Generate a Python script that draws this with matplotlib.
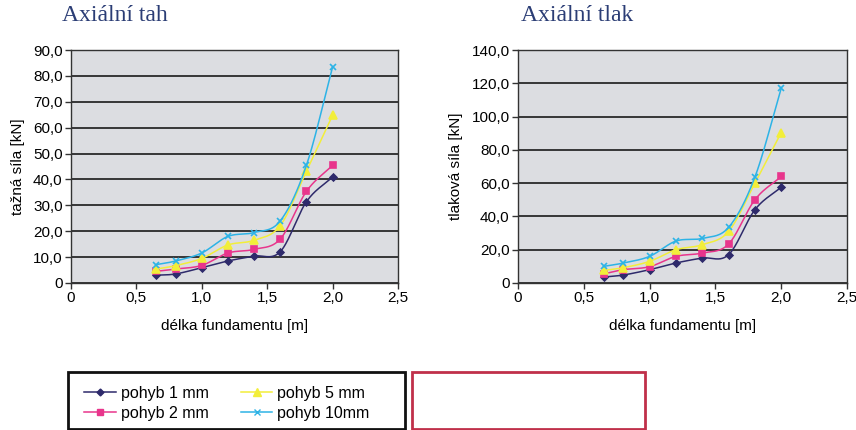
import numpy as np
import matplotlib.pyplot as plt
from matplotlib.patches import Rectangle
from matplotlib.ticker import FuncFormatter

# data
delka = [0.65, 0.8, 1.0, 1.2, 1.4, 1.6, 1.8, 2.0]

tah_1mm = [3.0, 3.5, 5.9, 8.5, 10.4, 12.1, 31.4, 41.0]
tah_2mm = [4.5, 5.4, 6.8, 11.6, 13.0, 17.0, 35.4, 45.5]
tah_5mm = [5.4, 6.7, 9.5, 14.7, 16.5, 22.2, 43.2, 64.8]
tah_10mm = [7.1, 8.5, 11.6, 18.0, 19.5, 24.0, 45.5, 83.5]

tlak_1mm = [3.6, 4.8, 8.0, 12.0, 15.0, 17.0, 44.0, 57.6]
tlak_2mm = [5.4, 8.0, 9.8, 16.0, 18.0, 23.4, 50.0, 64.0]
tlak_5mm = [7.6, 9.2, 13.0, 20.0, 23.0, 31.0, 60.0, 90.4]
tlak_10mm = [10.0, 12.0, 16.0, 25.2, 26.8, 33.4, 63.6, 117.0]

nazvy = ["pohyb 1 mm", "pohyb 2 mm", "pohyb 5 mm", "pohyb 10mm"]
barvy = ["#2E2A6B", "#E8358C", "#F2EE3A", "#2DB3E6"]
znacky = ["D", "s", "^", "x"]
velikosti = [3.5, 5, 5.5, 5]


def vyhlad(x, y, n=30):
    # Excel-like smoothing (parametric Catmull-Rom)
    p = np.column_stack([x, y]).astype(float)
    p = np.vstack([2 * p[0] - p[1], p, 2 * p[-1] - p[-2]])
    out = []
    t = np.linspace(0, 1, n)[:, None]
    for i in range(1, len(p) - 2):
        p0, p1, p2, p3 = p[i - 1], p[i], p[i + 1], p[i + 2]
        c = 0.5 * ((2 * p1) + (-p0 + p2) * t + (2 * p0 - 5 * p1 + 4 * p2 - p3) * t ** 2
                   + (-p0 + 3 * p1 - 3 * p2 + p3) * t ** 3)
        out.append(c if i == 1 else c[1:])
    c = np.vstack(out)
    return c[:, 0], c[:, 1]


def carka(v, pos):
    if v == 0:
        return "0"
    return ("%.1f" % v).replace(".", ",")


plt.rcParams['font.family'] = ['Liberation Sans', 'DejaVu Sans']

fig = plt.figure(figsize=(8.56, 4.30), dpi=100)
ax1 = fig.add_axes([71 / 856, 1 - 283 / 430, 327 / 856, 233 / 430])
ax2 = fig.add_axes([518 / 856, 1 - 283 / 430, 329 / 856, 233 / 430])

sady = [
    (ax1, [tah_1mm, tah_2mm, tah_5mm, tah_10mm], 90, 10, "tažná síla [kN]", "Axiální tah", -0.028),
    (ax2, [tlak_1mm, tlak_2mm, tlak_5mm, tlak_10mm], 140, 20, "tlaková síla [kN]", "Axiální tlak", 0.008),
]

for ax, rady, ymax, krok, ylab, titul, tx in sady:
    ax.set_facecolor("#DCDDE1")
    ax.set_xlim(0, 2.5)
    ax.set_ylim(0, ymax)
    ax.set_xticks(np.arange(0, 2.51, 0.5))
    ax.set_yticks(np.arange(0, ymax + 0.1, krok))
    ax.xaxis.set_major_formatter(FuncFormatter(carka))
    ax.yaxis.set_major_formatter(FuncFormatter(carka))
    ax.grid(axis="y", color="#1a1a1a", linewidth=1.2)
    ax.set_axisbelow(True)
    for s in ax.spines.values():
        s.set_color("#333333")
        s.set_linewidth(1.0)
    ax.tick_params(direction="out", length=4, width=1, color="#333333",
                   labelsize=11, pad=2)
    ax.set_ylabel(ylab, fontsize=11, labelpad=6)
    ax.set_xlabel("délka fundamentu [m]", fontsize=11, labelpad=10)
    ax.set_title(titul, fontsize=17, color="#2B3D75", loc="left",
                 family=["Liberation Serif"], x=tx, pad=21)
    for y, c, m, ms, nm in zip(rady, barvy, znacky, velikosti, nazvy):
        sx, sy = vyhlad(delka, y)
        ax.plot(sx, sy, color=c, linewidth=1.1)
        ax.plot(delka, y, linestyle="none", marker=m, color=c, markersize=ms,
                markeredgewidth=1.2)

# legend box and empty red box
fig.patches.append(Rectangle((68 / 856, 1 - 429 / 430), 337 / 856, 57 / 430,
                             transform=fig.transFigure, fill=False,
                             edgecolor="#111111", linewidth=2))
fig.patches.append(Rectangle((412 / 856, 1 - 429 / 430), 233 / 856, 57 / 430,
                             transform=fig.transFigure, fill=False,
                             edgecolor="#C0304A", linewidth=2))

handles = [plt.Line2D([], [], color=c, marker=m, markersize=ms, linewidth=1.1)
           for c, m, ms in zip(barvy, znacky, velikosti)]
fig.legend(handles, nazvy, ncol=2, frameon=False, fontsize=11.5,
           loc="upper left", bbox_to_anchor=(76 / 856, 1 - 378 / 430),
           handlelength=2.0, handletextpad=0.3, columnspacing=2.0,
           labelspacing=0.3, borderpad=0)

fig.savefig("out.png", dpi=100)
